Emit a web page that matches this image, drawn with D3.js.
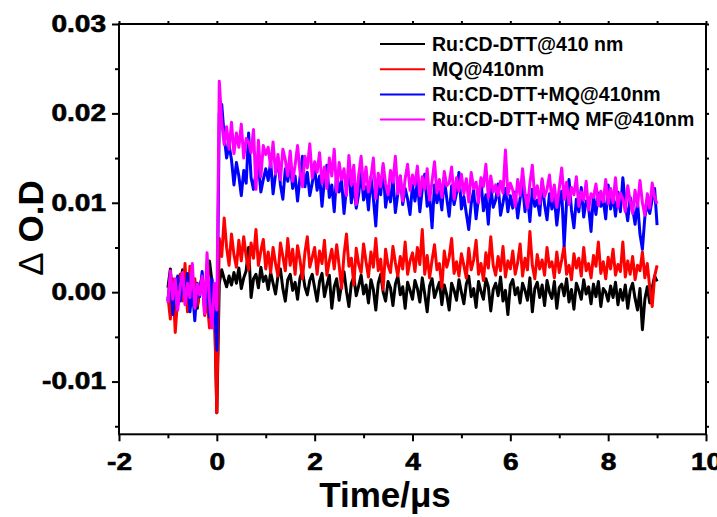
<!DOCTYPE html>
<html>
<head>
<meta charset="utf-8">
<script src="https://cdn.jsdelivr.net/npm/d3@7"></script>
<style>
    body { margin: 0; background: #fff; }
    svg { display: block; font-family: "Liberation Sans", Arial, sans-serif; font-weight: bold; }
</style>
</head>
<body>
<div id="chart"></div>
<script>
/* Sampling of the transient: -1 .. 9 us, one point every 0.05 us */
const tStart = -1.0;
const tStep = 0.05;

/* Series values, in 10^-3 O.D. */
const blackVals = [
    0.5, 2.6, -1.0, -3.0, -1.5, 1.0, 2.5, 0.2, -1.2, 1.5, -0.5, 0.8, -1.8, 0.3, 1.9, -0.8, 0.6, 3.5, 1.2, -0.5,
    -13.5,
    1.0, 2.5, 1.5, 0.6, 1.8, 0.8, 2.2, 1.0, 2.7, 0.4, 1.6, 2.4, 5.0, -0.6, 1.5, 2.0, 0.5, 2.8, 1.2, 1.8,
    0.3, 2.2, 1.0, -0.2, 1.8, 2.6, 0.4, -1.0, 1.4, 2.0, 0.2, 1.1, -0.8, 1.6, 2.4, 0.6, -0.3, 1.3, 2.0, 0.5,
    -1.0, 1.2, 2.1, -0.5, 0.8, 1.9, -1.8, 0.6, 1.5, -0.9, 0.9, 2.3, 0.1, -1.6, 1.0, 1.7, -0.4, 0.7, 1.9, -0.2,
    0.8, -1.2, 1.4, 0.3, -2.0, 1.0, 2.0, 0.0, -1.0, 1.2, 0.5, -1.5, 0.9, 1.8, -0.3, 0.6, -1.8, 1.1, 0.2, -0.8,
    1.3, 0.4, -1.1, 1.6, -0.2, -2.2, 0.7, 1.5, -0.6, 0.3, 1.1, -1.4, 0.8, -0.3, -2.0, 1.0, 0.2, -0.9, 1.4, 0.0,
    -1.3, 0.9, 1.8, -0.5, 0.4, -1.7, 1.2, 0.1, -0.8, 1.5, 0.6, -2.1, 0.3, 1.0, -0.4, 1.7, -1.0, 0.2, -2.5, 0.8,
    1.4, -0.3, 0.5, -1.2, 1.0, 0.2, -0.9, 1.6, -2.2, 0.4, 1.1, -0.6, 0.8, -1.5, 1.3, 0.0, -0.7, 1.2, -1.8, 0.5,
    0.9, -0.4, 1.5, -1.1, 0.3, -1.9, 1.0, 0.2, -0.8, 1.4, -0.2, 0.6, -1.3, 0.9, -0.5, 1.2, -1.6, 0.4, 0.0, -1.0,
    0.7, -0.6, 1.1, -1.4, 0.3, -0.9, 0.8, -1.8, 0.2, 1.0, -0.7, -2.0, 0.4, -4.2, -0.8, 0.6, -1.2, 0.5, 1.8, 1.2
];
const redVals = [
    -0.5, -3.0, 1.5, -4.5, -0.5, 2.0, -1.0, 3.2, -2.2, 2.9, 0.5, 1.5, -1.5, 0.2, 1.8, -2.6, -0.8, -4.0, 1.0, -1.5,
    -13.5,
    6.0, 4.0, 8.3, 5.0, 3.0, 6.5, 4.2, 2.8, 5.8, 3.5, 6.2, 4.0, 2.5, 5.5, 3.8, 7.0, 3.0, 4.6, 5.9, 2.6,
    4.5, 2.2, 5.0, 3.2, 1.8, 5.5, 4.0, 2.4, 6.0, 3.0, 4.8, 2.0, 5.2, 3.6, 1.5, 4.4, 6.2, 2.8, 3.9, 5.0,
    2.0, 4.6, 3.2, 5.8, 1.9, 3.5, 4.8, 2.6, 5.3, 3.0, 0.4, 4.2, 6.5, 2.9, 3.8, 0.8, 4.9, 3.1, 2.2, 5.4,
    3.4, 1.7, 4.5, 2.8, 6.0, 2.4, 3.7, 0.3, 4.8, 3.0, 2.2, 5.1, 3.3, 1.8, 4.0, 2.6, 5.6, 2.0, 3.5, 4.4,
    2.3, 5.0, 3.1, 7.0, 2.0, 4.1, 1.6, 3.6, 5.3, 2.5, 3.2, 0.5, 4.6, 2.8, 3.9, 6.0, 2.1, 3.4, 1.8, 4.3,
    3.0, 1.6, 4.9, 2.5, 3.6, 5.8, 2.0, 3.2, 1.3, 4.4, 2.7, 6.2, 3.0, 1.9, 4.0, 2.4, 5.1, 1.7, 3.5, 2.6,
    4.6, 2.0, 3.3, 5.4, 1.8, 3.8, 2.5, 6.8, 3.0, 1.5, 4.2, 2.6, 3.6, 1.9, 5.0, 2.8, 3.4, 1.6, 4.5, 2.2,
    3.6, 5.2, 2.0, 3.0, 1.4, 4.3, 2.7, 3.8, 1.8, 5.0, 2.4, 3.2, 1.6, 4.1, 2.9, 5.6, 2.1, 3.4, 1.5, 3.9,
    2.6, 4.8, 1.9, 3.1, 2.3, 5.6, 1.7, 3.5, 2.0, 4.0, 1.4, 3.0, 2.4, 4.5, 1.6, 3.2, 0.5, -1.6, 1.8, 3.0
];
const blueVals = [
    -1.0, 2.0, -2.5, 0.5, 1.8, -1.0, 1.2, -0.8, 2.1, -2.2, 0.4, -3.2, 1.0, -0.5, 2.3, -1.6, 0.8, -2.8, 1.5, -0.8,
    -6.5,
    20.0, 21.0, 17.5, 15.0, 16.5, 14.8, 12.0, 14.5, 13.0, 10.8, 13.6, 12.2, 17.8, 12.8, 11.5, 13.4, 14.2, 11.2, 12.6, 13.8,
    12.5, 14.6, 11.0, 13.2, 15.0, 12.0, 10.4, 13.8, 12.4, 14.4, 11.6, 13.0, 10.2, 12.8, 15.2, 11.8, 13.4, 10.8, 12.2, 13.9,
    11.4, 13.0, 9.6, 12.6, 14.2, 10.6, 12.0, 9.0, 13.3, 11.2, 12.5, 8.8, 11.7, 13.6, 10.0, 12.1, 9.4, 11.0, 13.5, 10.3,
    11.8, 9.2, 12.9, 10.5, 7.4, 12.2, 10.9, 14.0, 9.5, 11.4, 10.1, 12.7, 8.9, 11.0, 13.0, 9.8, 11.6, 10.4, 8.7, 12.0,
    10.2, 12.4, 9.0, 11.5, 13.2, 9.6, 10.8, 7.2, 12.0, 10.0, 11.3, 9.2, 12.8, 10.5, 8.5, 11.9, 9.8, 11.1, 13.4, 9.3,
    10.7, 8.8, 7.0, 9.9, 11.4, 8.2, 10.6, 12.5, 9.1, 10.9, 7.6, 11.8, 9.5, 10.3, 12.1, 8.6, 10.0, 11.6, 9.0, 10.8,
    9.4, 11.2, 8.3, 10.5, 12.0, 9.0, 10.8, 7.9, 11.5, 9.6, 10.3, 8.6, 12.4, 9.8, 8.1, 11.0, 9.3, 10.6, 7.5, 10.0,
    11.3, 5.2, 10.1, 12.6, 9.2, 7.2, 10.4, 9.0, 11.7, 8.4, 10.2, 9.5, 6.8, 10.9, 8.7, 11.1, 9.6, 10.3, 8.2, 12.0,
    9.3, 10.8, 8.5, 11.2, 9.0, 12.8, 9.8, 8.0, 10.6, 9.4, 7.6, 10.1, 6.5, 4.8, 8.4, 9.9, 8.8, 10.4, 11.6, 7.5
];
const magentaVals = [
    -1.2, 2.4, -0.8, 1.5, -2.0, 0.6, 2.2, -1.4, 1.0, -0.6, 3.2, -1.8, 0.9, -0.3, 1.8, -2.4, 4.4, -1.0, -4.0, 1.0,
    -2.0,
    23.6, 19.0, 16.5, 18.5, 16.0, 19.0, 15.5, 17.8, 16.2, 18.8, 15.0, 17.2, 16.8, 15.6, 18.2, 11.5, 17.0, 12.9, 16.4, 15.4,
    16.2, 14.0, 16.8, 13.2, 15.4, 12.6, 16.0, 14.8, 13.0, 15.8, 12.4, 14.2, 16.4, 13.5, 11.8, 15.2, 13.9, 16.6, 12.8, 14.6,
    13.4, 15.6, 12.2, 14.0, 11.6, 15.0, 13.0, 16.0, 11.2, 14.5, 12.6, 13.8, 10.8, 15.3, 12.0, 14.2, 9.8, 13.1, 15.2, 11.5,
    14.0, 11.2, 12.8, 15.0, 10.5, 13.3, 11.8, 14.4, 12.1, 10.9, 13.6, 12.3, 15.2, 11.0, 13.0, 10.2, 12.7, 14.3, 11.4, 13.1,
    12.0, 14.1, 10.8, 12.9, 11.5, 13.8, 10.3, 12.4, 14.6, 11.1, 12.6, 10.6, 13.5, 11.9, 12.2, 14.0, 10.4, 12.8, 11.3, 13.2,
    11.0, 12.7, 10.1, 13.4, 11.6, 12.3, 10.0, 12.8, 11.8, 14.3, 10.6, 13.0, 11.2, 12.0, 10.8, 12.4, 11.1, 15.9, 10.9, 12.2,
    11.4, 9.6, 12.6, 10.8, 13.8, 11.0, 9.4, 12.2, 14.2, 10.5, 11.9, 9.9, 12.7, 10.7, 11.5, 13.1, 10.2, 12.0, 9.5, 11.6,
    13.9, 10.4, 12.3, 9.8, 11.7, 10.9, 12.9, 9.6, 11.2, 10.3, 12.4, 9.2, 11.0, 10.6, 12.1, 9.7, 11.3, 10.1, 12.6, 9.9,
    11.6, 10.0, 12.8, 9.5, 11.1, 10.4, 9.0, 11.9, 10.2, 8.8, 11.4, 9.6, 12.5, 10.0, 8.6, 11.0, 9.4, 12.2, 10.6, 9.9
];

const seriesNames = ["Ru:CD-DTT@410 nm", "MQ@410nm", "Ru:CD-DTT+MQ@410nm", "Ru:CD-DTT+MQ MF@410nm"];
const seriesColors = ["#000000", "#ff0000", "#0000ff", "#ff00ff"];

/* Axis ticks */
const xMajor = [-2, 0, 2, 4, 6, 8, 10];
const xMinor = [-1, 1, 3, 5, 7, 9];
const yMajor = [-0.01, 0.00, 0.01, 0.02, 0.03];
const yMinor = [-0.015, -0.005, 0.005, 0.015, 0.025];

function drawChart() {

    /* Plot frame in pixels */
    const width = 717, height = 517;
    const left = 119, right = 706, top = 24, bottom = 434.3;

    const x = d3.scaleLinear().domain([-2, 10]).range([left, right]);
    const y = d3.scaleLinear().domain([-0.0159, 0.03]).range([bottom, top]);

    const hyphen = s => s.replace("\u2212", "-");

    const svg = d3.select("#chart")
        .append("svg")
        .attr("width", width)
        .attr("height", height);

    /* Build the data: one array of {t, v} per series */
    const allVals = [blackVals, redVals, blueVals, magentaVals];
    const series = allVals.map((vals, k) => ({
        name: seriesNames[k],
        color: seriesColors[k],
        points: vals.map((v, i) => ({ t: tStart + i * tStep, v: v / 1000 }))
    }));

    /* Curves, drawn black -> magenta so magenta ends on top */
    const line = d3.line()
        .x(d => x(d.t))
        .y(d => y(d.v));

    svg.append("g")
        .selectAll("path")
        .data(series)
        .enter().append("path")
        .attr("d", d => line(d.points))
        .attr("fill", "none")
        .attr("stroke", d => d.color)
        .attr("stroke-width", 3)
        .attr("stroke-linejoin", "round");

    /* Axes: major + minor outward ticks on left/bottom, short ones on top/right */
    function styleAxis(g) {
        g.select(".domain").remove();
        g.selectAll(".tick line").attr("stroke", "#000").attr("stroke-width", 2);
    }

    svg.append("g")
        .attr("transform", "translate(" + left + ",0)")
        .call(d3.axisLeft(y).tickValues(yMinor).tickSize(4).tickFormat(""))
        .call(styleAxis);
    const yAxis = svg.append("g")
        .attr("transform", "translate(" + left + ",0)")
        .call(d3.axisLeft(y).tickValues(yMajor).tickSize(7).tickPadding(6)
            .tickFormat(d => hyphen(d3.format(".2f")(d))))
        .call(styleAxis);

    svg.append("g")
        .attr("transform", "translate(0," + bottom + ")")
        .call(d3.axisBottom(x).tickValues(xMinor).tickSize(4).tickFormat(""))
        .call(styleAxis);
    const xAxis = svg.append("g")
        .attr("transform", "translate(0," + bottom + ")")
        .call(d3.axisBottom(x).tickValues(xMajor).tickSize(7).tickPadding(12.4)
            .tickFormat(d => hyphen(d3.format("d")(d))))
        .call(styleAxis);

    svg.append("g")
        .attr("transform", "translate(0," + top + ")")
        .call(d3.axisTop(x).tickValues(xMajor.concat(xMinor)).tickSize(3).tickFormat(""))
        .call(styleAxis);
    svg.append("g")
        .attr("transform", "translate(" + right + ",0)")
        .call(d3.axisRight(y).tickValues(yMajor.concat(yMinor)).tickSize(3).tickFormat(""))
        .call(styleAxis);

    /* Tick labels: heavy bold, a bit wider than normal */
    [xAxis, yAxis].forEach(g => {
        g.selectAll(".tick text")
            .attr("fill", "#000")
            .attr("stroke", "#000")
            .attr("stroke-width", 0.6)
            .style("font-family", "'Liberation Sans', Arial, sans-serif")
            .style("font-weight", "bold")
            .style("font-size", "23px")
            .each(function () {
                const w = this.getComputedTextLength();
                d3.select(this).attr("textLength", w * 1.22).attr("lengthAdjust", "spacingAndGlyphs");
            });
    });

    /* Frame */
    svg.append("rect")
        .attr("x", left).attr("y", top)
        .attr("width", right - left).attr("height", bottom - top)
        .attr("fill", "none")
        .attr("stroke", "#000")
        .attr("stroke-width", 2);

    /* Axis titles */
    svg.append("text")
        .attr("x", 385).attr("y", 506.7)
        .attr("text-anchor", "middle")
        .style("font-size", "35px")
        .text("Time/\u03bcs");

    const yTitle = svg.append("text")
        .attr("transform", "translate(43,228) rotate(-90)")
        .attr("text-anchor", "middle")
        .style("font-size", "35px");
    yTitle.append("tspan").style("font-weight", "normal").text("\u0394");
    yTitle.append("tspan").text(" O.D");

    /* Legend */
    const legend = svg.append("g")
        .selectAll("g")
        .data(series)
        .enter().append("g")
        .attr("transform", (d, i) => "translate(380," + (44 + i * 25.2) + ")");

    legend.append("line")
        .attr("x1", 0).attr("x2", 45)
        .attr("stroke", d => d.color)
        .attr("stroke-width", 2);

    legend.append("text")
        .attr("x", 52).attr("y", 6.8)
        .style("font-size", "19.5px")
        .text(d => d.name);
}

drawChart();
</script>
</body>
</html>
